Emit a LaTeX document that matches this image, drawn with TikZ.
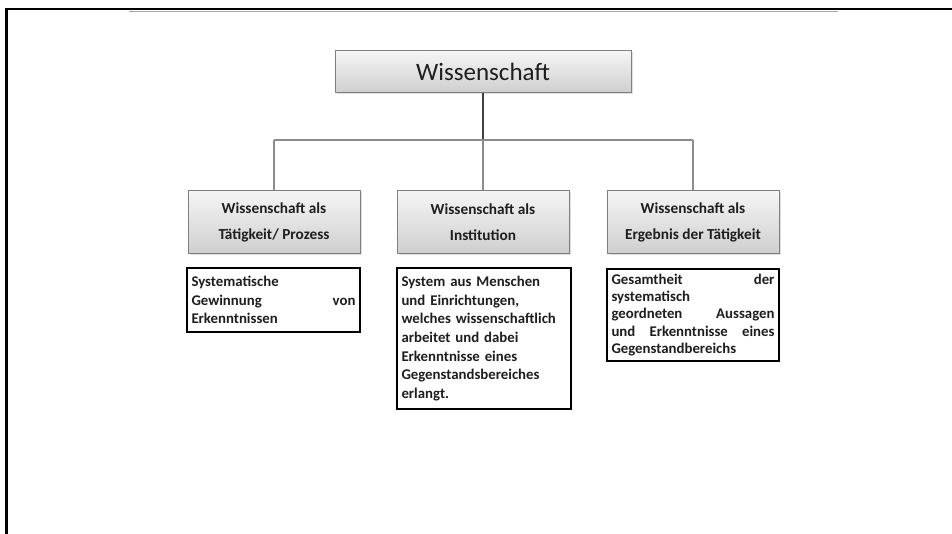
\documentclass[tikz,border=0pt]{standalone}
\usepackage{fontspec}
\setmainfont{Carlito}
\usetikzlibrary{shadows}
\definecolor{boxborder}{HTML}{7F7F7F}
\definecolor{linegray}{HTML}{8C8C8C}
\definecolor{txt}{HTML}{1E1E1E}
\tikzset{
  gradbox/.style={draw=boxborder, line width=1pt, top color=gray!8, bottom color=gray!38,
    drop shadow={shadow xshift=1.5pt, shadow yshift=-1.5pt, opacity=0.25, fill=gray},
    text=txt, align=center, inner sep=0pt},
  midbox/.style={gradbox, minimum width=172pt, minimum height=63pt,
    font=\fontsize{15.3}{26}\selectfont\bfseries},
  descbox/.style={draw=black, line width=1.6pt, fill=white, text=txt, align=left,
    inner xsep=4.5pt, inner ysep=0pt},
  conn/.style={draw=linegray, line width=1.2pt},
}
\begin{document}
\begin{tikzpicture}[x=1pt,y=-1pt]
\useasboundingbox (0,0) rectangle (952,534);
% frame
\draw[line width=2.5pt, black] (5,9) -- (952,9);
\draw[line width=2.5pt, black] (6.5,8) -- (6.5,534);
\draw[line width=1.5pt, gray!70] (129,11.5) -- (838,11.5);
% top
\node[gradbox, minimum width=296pt, minimum height=42pt, font=\fontsize{25}{28}\selectfont] (top) at (483,72) {Wissenschaft};
% middle
\node[midbox] (m1) at (274,222.5) {Wissenschaft als\\Tätigkeit/ Prozess};
\node[midbox] (m2) at (483,222.5) {Wissenschaft als\\Institution};
\node[midbox] (m3) at (693,222.5) {Wissenschaft als\\Ergebnis der Tätigkeit};
% connectors
\coordinate (hub) at (483,140);
\coordinate (h1) at (m1.north |- hub);
\coordinate (h3) at (m3.north |- hub);
\draw[line width=1.2pt, black!75] (top.south) -- (hub);
\draw[conn] (h1) -- (h3);
\draw[conn] (h1) -- (m1.north);
\draw[conn] (hub) -- (m2.north);
\draw[conn] (h3) -- (m3.north);
% descriptions
\node[descbox, text width=164pt, minimum height=64pt, font=\fontsize{14.8}{18.5}\selectfont\bfseries] (d1) at (273.5,300)
  {Systematische\\Gewinnung \hfill von\\Erkenntnissen};
\node[descbox, text width=165pt, minimum height=141pt, font=\fontsize{14.8}{18.7}\selectfont\bfseries] (d2) at (484,338.5)
  {System aus Menschen\\und Einrichtungen,\\welches wissenschaftlich\\arbeitet und dabei\\Erkenntnisse eines\\Gegenstandsbereiches\\erlangt.};
\node[descbox, text width=163pt, minimum height=92pt, font=\fontsize{14.8}{17.4}\selectfont\bfseries] (d3) at (693,315)
  {Gesamtheit \hfill der\\systematisch\\geordneten \hfill Aussagen\\und \hfill Erkenntnisse \hfill eines\\Gegenstandbereichs};
\end{tikzpicture}
\end{document}
